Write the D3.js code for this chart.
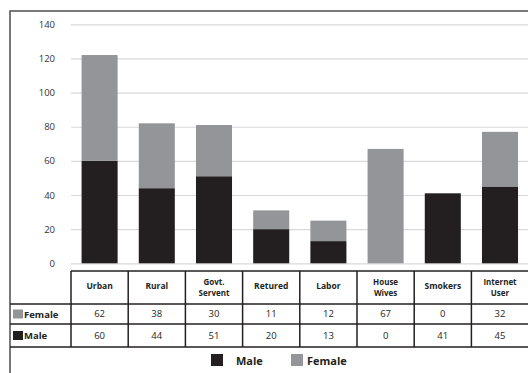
<!DOCTYPE html>
<html>
<head>
<meta charset="utf-8">
<script src="https://cdn.jsdelivr.net/npm/d3@7"></script>
<style>
  html, body { margin: 0; padding: 0; background: #fff; }
  svg { display: block; font-family: "Open Sans", "Liberation Sans", sans-serif; }
</style>
</head>
<body>
<svg id="chart" width="528" height="373"></svg>
<script>
// Population groups (header labels may wrap onto two lines)
const categories = [["Urban"], ["Rural"], ["Govt.", "Servent"], ["Retured"], ["Labor"], ["House", "Wives"], ["Smokers"], ["Internet", "User"]];
const femaleValues = [62, 38, 30, 11, 12, 67, 0, 32];
const maleValues = [60, 44, 51, 20, 13, 0, 41, 45];
const yTicks = [0, 20, 40, 60, 80, 100, 120, 140];
const seriesNames = ["Male", "Female"];
const seriesColors = { Male: "#231f20", Female: "#939598" };

const svg = d3.select("#chart");
const plotLeft = 71, plotRight = 528.6, plotTop = 24.3, plotBottom = 263.3;
const frameLeft = 10, frameTop = 11;

const keys = categories.map(c => c.join(" "));
const x = d3.scaleBand().domain(keys).range([plotLeft, plotRight]).paddingInner(0.37).paddingOuter(0.185);
const xCol = d3.scaleBand().domain(keys).range([plotLeft, plotRight]);
const y = d3.scaleLinear().domain([0, 140]).range([plotBottom, plotTop]);

// Outer frame (left and top edges)
svg.append("path")
  .attr("d", `M${frameLeft},373 V${frameTop} H528`)
  .attr("fill", "none").attr("stroke", "#4d4d4d").attr("stroke-width", 1.5);

// Gridlines and y axis labels
const yAxis = d3.axisLeft(y).tickValues(yTicks).tickSize(-(plotRight - plotLeft)).tickPadding(16);
const yg = svg.append("g").attr("transform", `translate(${plotLeft},0)`).call(yAxis);
yg.select(".domain").remove();
yg.selectAll(".tick line").attr("stroke", "#d9d9d9").attr("stroke-width", 1.2);
yg.selectAll(".tick text").attr("fill", "#333").attr("font-size", 9.5).attr("x", -16)
  .attr("font-family", "'Open Sans', sans-serif");

// Stacked bars
const rows = keys.map((k, i) => ({ key: k, Male: maleValues[i], Female: femaleValues[i] }));
const stacked = d3.stack().keys(seriesNames)(rows);
svg.append("g").selectAll("g").data(stacked).join("g")
  .attr("fill", d => seriesColors[d.key])
  .selectAll("rect").data(d => d).join("rect")
  .attr("x", d => x(d.data.key))
  .attr("width", x.bandwidth())
  .attr("y", d => y(d[1]))
  .attr("height", d => y(d[0]) - y(d[1]));

// Data table under the chart
const tableTop = 271, headerBottom = 304, femaleBottom = 324, maleBottom = 347;
const lineColor = "#231f20";
const tg = svg.append("g");
const line = (x1, y1, x2, y2) => tg.append("line").attr("x1", x1).attr("y1", y1).attr("x2", x2).attr("y2", y2)
  .attr("stroke", lineColor).attr("stroke-width", 1.5);

line(plotLeft, tableTop, 528, tableTop);
line(frameLeft, headerBottom, 528, headerBottom);
line(frameLeft, femaleBottom, 528, femaleBottom);
line(frameLeft, maleBottom, 528, maleBottom);
line(plotLeft, tableTop, plotLeft, maleBottom);
keys.forEach(k => {
  const xr = xCol(k) + xCol.bandwidth();
  if (xr < 528) line(xr, tableTop, xr, maleBottom);
});

// Column headers
categories.forEach((lines, i) => {
  const cx = xCol(keys[i]) + xCol.bandwidth() / 2;
  if (lines.length === 1) {
    tg.append("text").attr("x", cx).attr("y", 288.5).attr("text-anchor", "middle")
      .attr("font-size", 8.5).attr("font-weight", "bold").attr("fill", "#231f20").text(lines[0]);
  } else {
    lines.forEach((s, j) => {
      tg.append("text").attr("x", cx).attr("y", 285 + j * 11).attr("text-anchor", "middle")
        .attr("font-size", 8).attr("font-weight", "bold").attr("fill", "#231f20").text(s);
    });
  }
});

// Row labels with swatches, then values
const tableRows = [
  { name: "Female", values: femaleValues, top: headerBottom, bottom: femaleBottom },
  { name: "Male", values: maleValues, top: femaleBottom, bottom: maleBottom }
];
tableRows.forEach(r => {
  const mid = (r.top + r.bottom) / 2;
  tg.append("rect").attr("x", 13).attr("y", mid - 4.5).attr("width", 10).attr("height", 9)
    .attr("fill", seriesColors[r.name]);
  tg.append("text").attr("x", 24).attr("y", mid + 3.5).attr("font-size", 9.5).attr("font-weight", "bold")
    .attr("fill", "#231f20").text(r.name);
  r.values.forEach((v, i) => {
    tg.append("text").attr("x", xCol(keys[i]) + xCol.bandwidth() / 2).attr("y", mid + 3.3)
      .attr("text-anchor", "middle").attr("font-size", 9.5).attr("fill", "#231f20").text(v);
  });
});

// Legend
const legend = svg.append("g");
const legendItems = [{ name: "Male", sx: 211, tx: 236 }, { name: "Female", sx: 291, tx: 307 }];
legendItems.forEach(it => {
  legend.append("rect").attr("x", it.sx).attr("y", 354).attr("width", 12).attr("height", 12)
    .attr("fill", seriesColors[it.name]);
  legend.append("text").attr("x", it.tx).attr("y", 364.5).attr("font-size", 11).attr("font-weight", "bold")
    .attr("fill", "#231f20").text(it.name);
});
</script>
</body>
</html>
